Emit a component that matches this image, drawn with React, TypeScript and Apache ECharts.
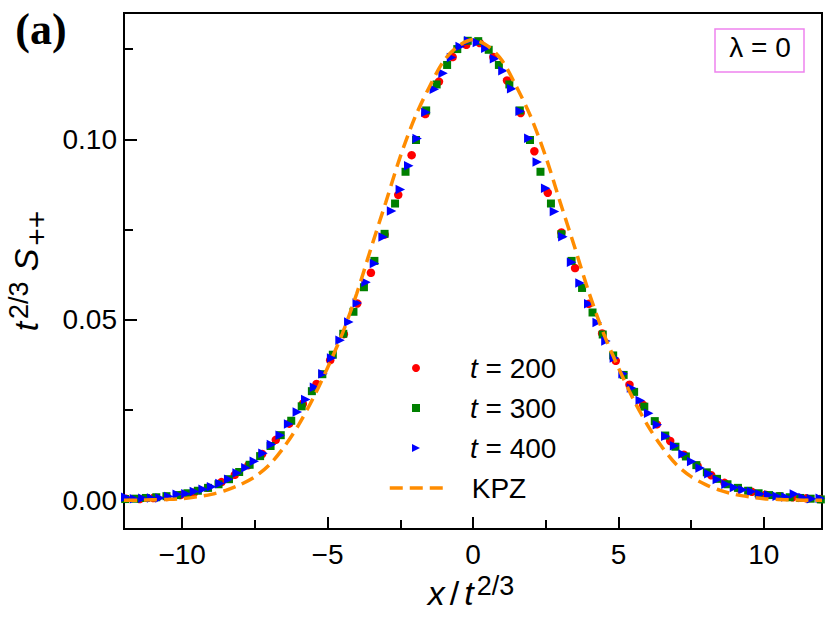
import React, { useEffect, useRef } from 'react';
import * as echarts from 'echarts';

const FONT = '"Liberation Sans", Arial, sans-serif';

// t = 200
const t200X = [
  -11.93, -11.46, -10.99, -10.53, -10.06, -9.59, -9.12, -8.65, -8.19, -7.72, -7.25, -6.78, -6.32,
  -5.85, -5.38, -4.91, -4.44, -3.98, -3.51, -3.04, -2.57, -2.11, -1.64, -1.17, -0.70, -0.23,
  0.23, 0.70, 1.17, 1.64, 2.11, 2.57, 3.04, 3.51, 3.98, 4.44, 4.91, 5.38, 5.85,
  6.32, 6.78, 7.25, 7.72, 8.19, 8.65, 9.12, 9.59, 10.06, 10.53, 10.99, 11.46, 11.93,
];
const t200Y = [
  0.0004, 0.0003, 0.0006, 0.0009, 0.0014, 0.0021, 0.0034, 0.0050, 0.0070, 0.0097, 0.0128, 0.0167, 0.0212,
  0.0267, 0.0322, 0.0388, 0.0460, 0.0545, 0.0630, 0.0736, 0.0846, 0.0956, 0.1070, 0.1160, 0.1228, 0.1262,
  0.1267, 0.1228, 0.1163, 0.1073, 0.0967, 0.0852, 0.0742, 0.0643, 0.0544, 0.0462, 0.0386, 0.0320, 0.0264,
  0.0210, 0.0164, 0.0126, 0.0095, 0.0069, 0.0048, 0.0033, 0.0023, 0.0015, 0.0011, 0.0008, 0.0005, 0.0003,
];

// t = 300
const t300X = [
  -11.96, -11.61, -11.25, -10.89, -10.54, -10.18, -9.82, -9.46, -9.11, -8.75, -8.39, -8.04, -7.68, -7.32,
  -6.96, -6.61, -6.25, -5.89, -5.54, -5.18, -4.82, -4.46, -4.11, -3.75, -3.39, -3.04, -2.68, -2.32,
  -1.96, -1.61, -1.25, -0.89, -0.54, -0.18,
  0.18, 0.54, 0.89, 1.25, 1.61, 1.96, 2.32, 2.68, 3.04, 3.39, 3.75, 4.11, 4.46, 4.82,
  5.18, 5.54, 5.89, 6.25, 6.61, 6.96, 7.32, 7.68, 8.04, 8.39, 8.75, 9.11, 9.46, 9.82,
  10.18, 10.54, 10.89, 11.25, 11.61, 11.96,
];
const t300Y = [
  0.0003, 0.0004, 0.0006, 0.0008, 0.0011, 0.0014, 0.0019, 0.0026, 0.0034, 0.0044, 0.0058, 0.0078, 0.0098, 0.0122,
  0.0150, 0.0180, 0.0220, 0.0260, 0.0302, 0.0349, 0.0403, 0.0461, 0.0522, 0.0590, 0.0663, 0.0738, 0.0822, 0.0910,
  0.0998, 0.1080, 0.1152, 0.1206, 0.1250, 0.1273,
  0.1272, 0.1248, 0.1206, 0.1152, 0.1080, 0.0998, 0.0910, 0.0822, 0.0737, 0.0663, 0.0588, 0.0520, 0.0459, 0.0401,
  0.0347, 0.0300, 0.0259, 0.0219, 0.0179, 0.0148, 0.0121, 0.0097, 0.0077, 0.0059, 0.0044, 0.0034, 0.0026, 0.0019,
  0.0014, 0.0011, 0.0008, 0.0006, 0.0004, 0.0002,
];

// t = 400
const t400X = [
  -11.94, -11.64, -11.35, -11.05, -10.76, -10.46, -10.17, -9.87, -9.58, -9.28, -8.99, -8.70, -8.40, -8.11,
  -7.81, -7.52, -7.22, -6.93, -6.63, -6.34, -6.04, -5.75, -5.45, -5.16, -4.86, -4.57, -4.27, -3.98,
  -3.68, -3.39, -3.09, -2.80, -2.50, -2.21, -1.92, -1.62, -1.33, -1.03, -0.74, -0.44, -0.15,
  0.15, 0.44, 0.74, 1.03, 1.33, 1.62, 1.92, 2.21, 2.50, 2.80, 3.09, 3.39, 3.68, 3.98,
  4.27, 4.57, 4.86, 5.16, 5.45, 5.75, 6.04, 6.34, 6.63, 6.93, 7.22, 7.52, 7.81, 8.11,
  8.40, 8.70, 8.99, 9.28, 9.58, 9.87, 10.17, 10.46, 10.76, 11.05, 11.35, 11.64, 11.94,
];
const t400Y = [
  0.0008, 0.0004, 0.0005, 0.0006, 0.0006, 0.0010, 0.0016, 0.0018, 0.0024, 0.0030, 0.0037, 0.0046, 0.0058, 0.0075,
  0.0090, 0.0108, 0.0130, 0.0154, 0.0180, 0.0211, 0.0244, 0.0279, 0.0313, 0.0350, 0.0394, 0.0443, 0.0494, 0.0546,
  0.0604, 0.0656, 0.0729, 0.0801, 0.0861, 0.0927, 0.1002, 0.1075, 0.1139, 0.1183, 0.1227, 0.1257, 0.1273,
  0.1268, 0.1252, 0.1223, 0.1190, 0.1140, 0.1078, 0.1003, 0.0937, 0.0864, 0.0800, 0.0730, 0.0659, 0.0602, 0.0544,
  0.0492, 0.0441, 0.0394, 0.0350, 0.0311, 0.0276, 0.0241, 0.0209, 0.0177, 0.0151, 0.0128, 0.0107, 0.0089, 0.0073,
  0.0057, 0.0044, 0.0035, 0.0029, 0.0024, 0.0017, 0.0014, 0.0011, 0.0009, 0.0017, 0.0007, 0.0004, 0.0005,
];

// KPZ scaling function
const kpzX = [
  -12, -11.5, -11, -10.5, -10, -9.5, -9, -8.5, -8, -7.5, -7, -6.5, -6, -5.5, -5, -4.5, -4, -3.5, -3, -2.5,
  -2, -1.5, -1, -0.5, 0, 0.5, 1, 1.5, 2, 2.5, 3, 3.5, 4, 4.5, 5, 5.5, 6, 6.5, 7, 7.5, 8, 8.5, 9, 9.5,
  10, 10.5, 11, 11.5, 12,
];
const kpzY = [
  0.0, 0.0, 0.0001, 0.0002, 0.0004, 0.0009, 0.0016, 0.0027, 0.0043, 0.0065, 0.0098, 0.0147, 0.0208, 0.0282,
  0.0367, 0.0460, 0.0572, 0.0700, 0.0825, 0.0952, 0.1060, 0.1145, 0.1218, 0.1259, 0.1276, 0.1259, 0.1218,
  0.1145, 0.1060, 0.0952, 0.0825, 0.0700, 0.0572, 0.0460, 0.0367, 0.0282, 0.0208, 0.0147, 0.0098, 0.0065,
  0.0043, 0.0027, 0.0016, 0.0009, 0.0004, 0.0002, 0.0001, 0.0, 0.0,
];

const xMajorTicks = [-10, -5, 0, 5, 10];
const xMinorTicks = [-7.5, -2.5, 2.5, 7.5];
const yMajorTicks = [0, 0.05, 0.1];
const yMinorTicks = [0.025, 0.075, 0.125];

const seriesNames = ['t = 200', 't = 300', 't = 400', 'KPZ'];

const zip = (xs: number[], ys: number[]) => xs.map((x, i) => [x, ys[i]]);

const X_MIN = -12;
const X_MAX = 12;
const Y_MIN = -0.008;
const Y_MAX = 0.135;

const KPZ_COLOR = '#ff8c00';
const KPZ_DASH = [13, 7];
const RIGHT_TRIANGLE = 'path://M0,0L10,5L0,10Z';

export default function App() {
  const ref = useRef<HTMLDivElement>(null);

  useEffect(() => {
    document.body.style.margin = '0';
    if (!ref.current) return;
    const chart = echarts.init(ref.current, null, { renderer: 'svg' });

    const tickLine = { color: '#000', width: 2 };
    const mainRich = {
      i: { fontStyle: 'italic', fontSize: 34, fontFamily: FONT, color: '#000', lineHeight: 34 },
      s: { fontSize: 34, fontFamily: FONT, color: '#000', lineHeight: 34, padding: [0, 5, 0, 5] },
      S: { fontStyle: 'italic', fontSize: 34, fontFamily: FONT, color: '#000', lineHeight: 34, padding: [0, 0, 0, 6] },
      sup: { fontSize: 27, fontFamily: FONT, color: '#000', verticalAlign: 'top', height: 20, lineHeight: 20, padding: [0, 4, 0, 3] },
      sub: { fontSize: 30, fontFamily: FONT, color: '#000', verticalAlign: 'bottom', height: 12, lineHeight: 12, padding: [0, 0, 0, 3] },
    };

    const legendText = (pad: number) => ({
      fontSize: 28,
      fontFamily: FONT,
      color: '#000',
      lineHeight: 30,
      padding: [0, 0, 0, pad],
      rich: {
        i: { fontStyle: 'italic', fontSize: 28, fontFamily: FONT, color: '#000', lineHeight: 30 },
        e: { fontSize: 28, fontFamily: FONT, color: '#000', lineHeight: 30 },
      },
    });

    const fmtX = (v: number) => (v < 0 ? '\u2212' + String(-v) : String(v));

    const option: any = {
      animation: false,
      backgroundColor: '#fff',
      grid: {
        left: 124,
        right: 8,
        top: 13,
        bottom: 94,
        show: true,
        borderColor: '#000',
        borderWidth: 2,
        outerBoundsMode: 'none',
      },
      xAxis: [
        {
          type: 'value',
          min: X_MIN,
          max: X_MAX,
          position: 'bottom',
          axisLine: { show: true, onZero: false, lineStyle: tickLine },
          axisTick: { show: true, inside: true, length: 12, lineStyle: tickLine, customValues: xMajorTicks },
          axisLabel: {
            customValues: xMajorTicks,
            formatter: fmtX,
            fontSize: 28,
            fontFamily: FONT,
            color: '#000',
            margin: 11,
          },
          splitLine: { show: false },
          name: '{i|x}{s|/}{i|t}{sup|2/3}',
          nameLocation: 'middle',
          nameGap: 47,
          nameTextStyle: { fontSize: 34, fontFamily: FONT, color: '#000', lineHeight: 34, rich: mainRich },
        },
        {
          type: 'value',
          min: X_MIN,
          max: X_MAX,
          position: 'bottom',
          axisLine: { show: false, onZero: false },
          axisTick: { show: true, inside: true, length: 9, lineStyle: tickLine, customValues: xMinorTicks },
          axisLabel: { show: false },
          splitLine: { show: false },
        },
      ],
      yAxis: [
        {
          type: 'value',
          min: Y_MIN,
          max: Y_MAX,
          position: 'left',
          axisLine: { show: true, onZero: false, lineStyle: tickLine },
          axisTick: { show: true, inside: true, length: 13, lineStyle: tickLine, customValues: yMajorTicks },
          axisLabel: {
            customValues: yMajorTicks,
            formatter: (v: number) => v.toFixed(2),
            fontSize: 28,
            fontFamily: FONT,
            color: '#000',
            margin: 7,
          },
          splitLine: { show: false },
          name: '{i|t}{sup|2/3}{S|S}{sub|++}',
          nameLocation: 'middle',
          nameRotate: 90,
          nameGap: 71,
          nameTextStyle: { fontSize: 34, fontFamily: FONT, color: '#000', lineHeight: 34, rich: mainRich },
        },
        {
          type: 'value',
          min: Y_MIN,
          max: Y_MAX,
          position: 'left',
          axisLine: { show: false, onZero: false },
          axisTick: { show: true, inside: true, length: 9, lineStyle: tickLine, customValues: yMinorTicks },
          axisLabel: { show: false },
          splitLine: { show: false },
        },
      ],
      legend: [
        {
          orient: 'vertical',
          left: 412,
          top: 353,
          padding: 0,
          itemGap: 10,
          itemWidth: 8,
          itemHeight: 8,
          data: [
            { name: seriesNames[0] },
            { name: seriesNames[1] },
            { name: seriesNames[2], icon: RIGHT_TRIANGLE },
          ],
          formatter: (name: string) => '{i|t}{e| = }' + name.slice(4),
          textStyle: legendText(45),
        },
        {
          orient: 'vertical',
          left: 388,
          top: 473,
          padding: 0,
          itemWidth: 57,
          itemHeight: 8,
          data: [
            {
              name: seriesNames[3],
              itemStyle: { opacity: 0 },
              lineStyle: { color: KPZ_COLOR, width: 3.5, type: KPZ_DASH },
            },
          ],
          textStyle: legendText(20),
        },
      ],
      series: [
        {
          type: 'scatter',
          name: seriesNames[0],
          data: zip(t200X, t200Y),
          symbol: 'circle',
          symbolSize: 8.5,
          itemStyle: { color: '#ff0000', opacity: 1 },
        },
        {
          type: 'scatter',
          name: seriesNames[1],
          data: zip(t300X, t300Y),
          symbol: 'rect',
          symbolSize: 8,
          itemStyle: { color: '#008000', opacity: 1 },
        },
        {
          type: 'scatter',
          name: seriesNames[2],
          data: zip(t400X, t400Y),
          symbol: RIGHT_TRIANGLE,
          symbolSize: 9.5,
          itemStyle: { color: '#0000ff', opacity: 1 },
        },
        {
          type: 'line',
          name: seriesNames[3],
          data: zip(kpzX, kpzY),
          smooth: 0.3,
          symbol: 'none',
          showSymbol: false,
          lineStyle: { color: KPZ_COLOR, width: 3.5, type: KPZ_DASH },
          itemStyle: { color: KPZ_COLOR },
        },
      ],
      graphic: [
        {
          type: 'text',
          x: 41,
          y: 29,
          style: {
            text: '(a)',
            fontSize: 44,
            fontWeight: 'bold',
            fontFamily: '"Liberation Serif", "DejaVu Serif", serif',
            fill: '#000',
            align: 'center',
            verticalAlign: 'middle',
          },
        },
        {
          type: 'rect',
          z: 10,
          shape: { x: 715, y: 29, width: 89, height: 43 },
          style: { fill: '#fff', stroke: '#ee82ee', lineWidth: 1.5 },
        },
        {
          type: 'text',
          z: 11,
          x: 760,
          y: 47,
          style: {
            text: 'λ = 0',
            fontSize: 28,
            fontFamily: FONT,
            fill: '#000',
            align: 'center',
            verticalAlign: 'middle',
          },
        },
      ],
    };

    chart.setOption(option);
    return () => chart.dispose();
  }, []);

  return (
    <div
      ref={ref}
      style={{ position: 'fixed', left: 0, top: 0, width: 830, height: 623, background: '#fff' }}
    />
  );
}
